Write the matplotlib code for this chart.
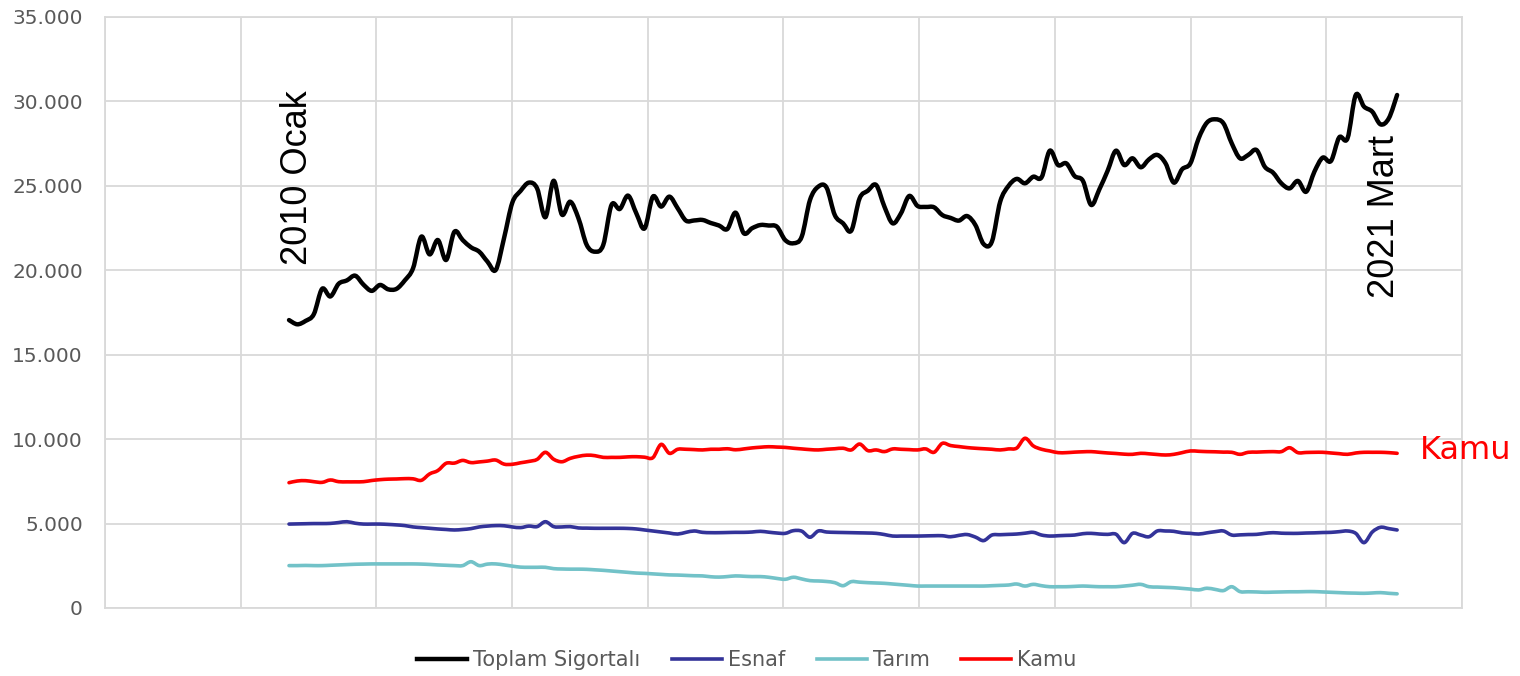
import numpy as np
import matplotlib
matplotlib.use("Agg")
import matplotlib.pyplot as plt
from matplotlib.path import Path
from matplotlib.patches import PathPatch

# monthly values, 2010 Ocak .. 2021 Mart (135 months)
toplam = [
    17050, 16800, 17000, 17400, 18900, 18450, 19200, 19400, 19680, 19150,
    18780, 19130, 18870, 18900, 19400, 20120, 21990, 20940, 21790, 20610,
    22280, 21790, 21360, 21100, 20510, 20020, 21900, 24000, 24700, 25190,
    24850, 23140, 25300, 23300, 24060, 23080, 21500, 21100, 21500, 23870,
    23630, 24420, 23370, 22480, 24360, 23770, 24360, 23670, 22940, 22950,
    22980, 22800, 22650, 22440, 23410, 22190, 22490, 22680, 22650, 22580,
    21790, 21600, 21990, 24160, 24950, 24900, 23270, 22780, 22350, 24260,
    24710, 25050, 23770, 22780, 23370, 24400, 23810, 23750, 23730, 23270,
    23100, 22940, 23210, 22680, 21550, 21700, 24060, 24990, 25410, 25150,
    25540, 25500, 27080, 26230, 26330, 25580, 25300, 23870, 24800, 25900,
    27080, 26230, 26630, 26100, 26570, 26830, 26330, 25190, 25980, 26330,
    27810, 28740, 28940, 28700, 27520, 26630, 26830, 27120, 26130, 25780,
    25150, 24850, 25290, 24650, 25840, 26670, 26470, 27870, 27810, 30380,
    29690, 29390, 28640, 29000, 30380,
]
esnaf = [
    4970, 4980, 4990, 5000, 5000, 5010, 5060, 5110, 5020, 4970,
    4970, 4970, 4950, 4920, 4880, 4800, 4760, 4720, 4680, 4650,
    4620, 4650, 4700, 4800, 4850, 4880, 4870, 4800, 4760, 4850,
    4820, 5110, 4820, 4800, 4820, 4740, 4730, 4720, 4720, 4720,
    4720, 4710, 4680, 4620, 4560, 4500, 4440, 4380, 4480, 4560,
    4480, 4460, 4460, 4470, 4480, 4480, 4500, 4540, 4490, 4440,
    4420, 4580, 4550, 4190, 4560, 4500, 4480, 4470, 4460, 4450,
    4440, 4420, 4350, 4260, 4260, 4260, 4260, 4270, 4280, 4280,
    4220, 4300, 4350, 4200, 3990, 4320, 4340, 4360, 4380, 4430,
    4480, 4320, 4260, 4280, 4300, 4320, 4400, 4420, 4380, 4360,
    4370, 3870, 4420, 4320, 4220, 4560, 4560, 4540, 4450, 4420,
    4380, 4450, 4520, 4560, 4320, 4330, 4350, 4360, 4420, 4460,
    4430, 4420, 4420, 4440, 4450, 4470, 4480, 4520, 4560, 4420,
    3870, 4500, 4780, 4700, 4620,
]
tarim = [
    2510, 2510, 2520, 2510, 2510, 2530, 2550, 2570, 2590, 2600,
    2610, 2610, 2610, 2610, 2610, 2610, 2600, 2580, 2550, 2530,
    2510, 2510, 2740, 2510, 2600, 2610, 2550, 2480, 2420, 2410,
    2410, 2410, 2330, 2310, 2300, 2300, 2290, 2260, 2230, 2190,
    2150, 2110, 2070, 2050, 2020, 1990, 1960, 1950, 1930, 1910,
    1900, 1850, 1830, 1860, 1900, 1880, 1860, 1860, 1820, 1750,
    1700, 1820, 1720, 1620, 1600, 1570, 1500, 1320, 1560, 1530,
    1500, 1480, 1460, 1420, 1380, 1340, 1300, 1300, 1300, 1300,
    1300, 1300, 1300, 1300, 1300, 1320, 1340, 1360, 1420, 1300,
    1400, 1320, 1260, 1260, 1260, 1280, 1300, 1280, 1260, 1260,
    1260, 1300, 1350, 1400, 1260, 1240, 1220, 1200, 1160, 1120,
    1070, 1170, 1100, 1030, 1260, 970, 960, 950, 930, 940,
    950, 960, 960, 970, 970, 950, 930, 910, 890, 880,
    870, 890, 910, 870, 840,
]
kamu = [
    7420, 7520, 7540, 7480, 7440, 7580, 7480, 7470, 7470, 7480,
    7550, 7600, 7630, 7640, 7660, 7650, 7560, 7940, 8140, 8570,
    8580, 8740, 8610, 8650, 8700, 8760, 8520, 8510, 8600, 8680,
    8800, 9220, 8810, 8660, 8860, 8980, 9050, 9020, 8920, 8920,
    8920, 8950, 8960, 8930, 8900, 9690, 9160, 9400, 9400, 9380,
    9360, 9400, 9400, 9430, 9370, 9420, 9480, 9520, 9550, 9530,
    9510, 9460, 9420, 9380, 9360, 9400, 9430, 9460, 9360, 9710,
    9320, 9360, 9260, 9420, 9400, 9380, 9360, 9420, 9220, 9750,
    9620, 9560, 9500, 9460, 9430, 9400, 9360, 9420, 9470, 10050,
    9600, 9400, 9300, 9200, 9200, 9230, 9250, 9260, 9220, 9180,
    9150, 9110, 9100, 9160, 9130, 9090, 9060, 9100, 9200, 9300,
    9280, 9260, 9250, 9230, 9220, 9100, 9220, 9230, 9250, 9260,
    9260, 9490, 9200, 9210, 9220, 9220, 9180, 9140, 9100, 9180,
    9220, 9220, 9220, 9200, 9160,
]
series_names = ["Toplam Sigortalı", "Esnaf", "Tarım", "Kamu"]
series_colors = ["#000000", "#333399", "#72C2C8", "#FF0000"]
y_ticks = [0, 5000, 10000, 15000, 20000, 25000, 30000, 35000]

months = np.arange(len(toplam))


def smooth_path(x, y):
    # Excel-like smoothed line: cubic Bezier segments through every point
    x = np.asarray(x, float)
    y = np.asarray(y, float)
    pts = np.column_stack([x, y])
    ext = np.vstack([pts[0], pts, pts[-1]])
    verts = [pts[0]]
    codes = [Path.MOVETO]
    for i in range(len(pts) - 1):
        p0, p1, p2, p3 = ext[i], ext[i + 1], ext[i + 2], ext[i + 3]
        c1 = p1 + (p2 - p0) / 6.0
        c2 = p2 - (p3 - p1) / 6.0
        verts += [c1, c2, p2]
        codes += [Path.CURVE4] * 3
    return Path(verts, codes)


fig = plt.figure(figsize=(15.2, 6.76), dpi=100)
ax = fig.add_axes([0.0691, 0.1006, 0.8927, 0.8743])

widths = [3.2, 2.6, 2.6, 2.6]
for vals, name, col, lw in zip([toplam, esnaf, tarim, kamu], series_names, series_colors, widths):
    patch = PathPatch(smooth_path(months, vals), facecolor="none", edgecolor=col,
                      lw=lw, joinstyle="round", capstyle="round")
    ax.add_patch(patch)
    ax.plot([], [], color=col, lw=lw, label=name)

x_left, x_right = -22.25, 141.84
ax.set_xlim(x_left, x_right)
ax.set_ylim(0, 35000)
ax.set_xticks(np.linspace(x_left, x_right, 11))
ax.set_xticklabels([])
ax.set_yticks(y_ticks)
ax.set_yticklabels([f"{v:,}".replace(",", ".") for v in y_ticks])
ax.tick_params(length=0, labelsize=14.5, labelcolor="#595959", pad=16)
ax.grid(True, color="#D9D9D9", lw=1.3)
ax.set_axisbelow(True)
for s in ax.spines.values():
    s.set_color("#D9D9D9")
    s.set_linewidth(1.3)

ax.text(1, 20310, "2010 Ocak", rotation=90, ha="center", va="bottom",
        fontsize=26, family="Liberation Sans", color="black")
ax.text(132.5, 18360, "2021 Mart", rotation=90, ha="center", va="bottom",
        fontsize=26, family="Liberation Sans", color="black")
ax.text(136.8, 9300, "Kamu", ha="left", va="center", fontsize=23,
        color="#FF0000", clip_on=False)

leg = ax.legend(loc="upper center", bbox_to_anchor=(0.473, -0.04), ncol=4,
                frameon=False, fontsize=15, handlelength=2.4, handletextpad=0.3,
                columnspacing=1.5)
for t in leg.get_texts():
    t.set_color("#595959")

fig.savefig("out.png", dpi=100)
